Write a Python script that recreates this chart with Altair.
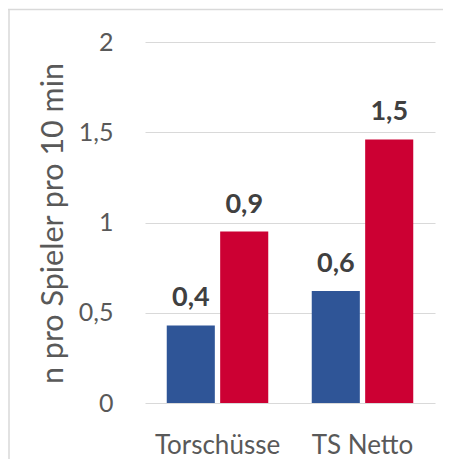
import altair as alt
import pandas as pd

categories = ["Torschüsse", "TS Netto"]
series = ["Serie 1", "Serie 2"]
values_serie1 = [0.43, 0.62]
values_serie2 = [0.95, 1.46]
y_ticks = [0, 0.5, 1, 1.5, 2]
colors = ["#2F5597", "#CC0033"]

rows = []
for i, c in enumerate(categories):
    rows.append({"kategorie": c, "serie": series[0], "wert": values_serie1[i]})
    rows.append({"kategorie": c, "serie": series[1], "wert": values_serie2[i]})
df = pd.DataFrame(rows)

FONT = "Lato"

base = alt.Chart(df).encode(
    x=alt.X(
        "kategorie:N",
        sort=categories,
        scale=alt.Scale(paddingInner=0.3, paddingOuter=0.15),
        axis=alt.Axis(
            title=None, labelAngle=0, domain=False, ticks=False, tickSize=0,
            labelPadding=29, labelFontSize=26, labelColor="#595959", labelFont=FONT,
        ),
    ),
    xOffset=alt.XOffset("serie:N", sort=series, scale=alt.Scale(paddingInner=0.1)),
    y=alt.Y(
        "wert:Q",
        scale=alt.Scale(domain=[0, 2]),
        axis=alt.Axis(
            values=y_ticks, format=".1~f", labelExpr="replace(datum.label, '.', ',')",
            grid=True, gridColor="#d9d9d9", gridWidth=1, domain=False, ticks=False, tickSize=0,
            labelPadding=32, labelFontSize=25, labelColor="#595959", labelFont=FONT,
            title="n pro Spieler pro 10 min", titleFontSize=30.5, titleFont=FONT,
            titleFontWeight="normal", titleColor="#595959", titleAngle=270,
            titleBaseline="alphabetic", titleAlign="center", titleX=-83, titleY=181,
        ),
    ),
)

bars = base.mark_bar().encode(
    color=alt.Color("serie:N", scale=alt.Scale(domain=series, range=colors), legend=None)
)

labels = base.transform_calculate(
    lbl="replace(format(datum.wert, '.1f'), '.', ',')"
).mark_text(
    font=FONT, fontSize=27, fontWeight="bold", color="#404040", baseline="alphabetic", dy=-19
).encode(text="lbl:N")

frame_df = pd.DataFrame({"f": [0]})
frame_top = alt.Chart(frame_df).mark_rule(color="#d9d9d9", strokeWidth=1.5).encode(
    x=alt.value(-137), x2=alt.value(298), y=alt.value(-32.5)
)
frame_left = alt.Chart(frame_df).mark_rule(color="#d9d9d9", strokeWidth=1.5).encode(
    x=alt.value(-136), y=alt.value(-33), y2=alt.value(417)
)

chart = alt.layer(frame_top, frame_left, bars, labels).properties(
    width=290,
    height=361,
    autosize=alt.AutoSizeParams(type="none"),
    padding={"left": 137, "top": 34, "right": 8, "bottom": 56},
    background="white",
).configure_view(stroke=None)

chart.save("out.html", embed_options={"renderer": "svg", "actions": False})
